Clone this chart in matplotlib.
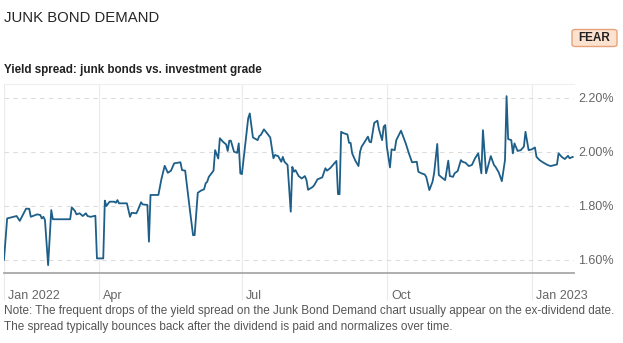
import matplotlib
matplotlib.use("Agg")
import matplotlib.pyplot as plt
from matplotlib.patches import FancyBboxPatch
from matplotlib.transforms import ScaledTranslation
import pandas as pd

plt.rcParams['font.family'] = ['Liberation Sans', 'DejaVu Sans']

# daily yield spread, junk bonds vs. investment grade (%)
dates = [
    "2022-01-31", "2022-02-02", "2022-02-08", "2022-02-10", "2022-02-14", "2022-02-16",
    "2022-02-17", "2022-02-21", "2022-02-23", "2022-02-24", "2022-02-25", "2022-02-26",
    "2022-02-28", "2022-03-02", "2022-03-03", "2022-03-14", "2022-03-15", "2022-03-17",
    "2022-03-18", "2022-03-20", "2022-03-22", "2022-03-24", "2022-03-25", "2022-03-27",
    "2022-03-30", "2022-03-31", "2022-04-04", "2022-04-05", "2022-04-06", "2022-04-08",
    "2022-04-11", "2022-04-12", "2022-04-13", "2022-04-14", "2022-04-19", "2022-04-21",
    "2022-04-22", "2022-04-25", "2022-04-26", "2022-04-28", "2022-04-29", "2022-05-02",
    "2022-05-03", "2022-05-04", "2022-05-09", "2022-05-11", "2022-05-13", "2022-05-15",
    "2022-05-17", "2022-05-19", "2022-05-23", "2022-05-24", "2022-05-26", "2022-05-29",
    "2022-05-31", "2022-06-01", "2022-06-03", "2022-06-05", "2022-06-07", "2022-06-08",
    "2022-06-09", "2022-06-10", "2022-06-13", "2022-06-14", "2022-06-16", "2022-06-17",
    "2022-06-19", "2022-06-21", "2022-06-22", "2022-06-23", "2022-06-24", "2022-06-26",
    "2022-06-28", "2022-06-29", "2022-06-30", "2022-07-01", "2022-07-05", "2022-07-06",
    "2022-07-08", "2022-07-11", "2022-07-12", "2022-07-13", "2022-07-15", "2022-07-19",
    "2022-07-21", "2022-07-22", "2022-07-24", "2022-07-26", "2022-07-27", "2022-07-28",
    "2022-07-30", "2022-08-01", "2022-08-02", "2022-08-03", "2022-08-04", "2022-08-06",
    "2022-08-08", "2022-08-10", "2022-08-11", "2022-08-12", "2022-08-15", "2022-08-16",
    "2022-08-18", "2022-08-21", "2022-08-23", "2022-08-24", "2022-08-26", "2022-08-30",
    "2022-08-31", "2022-09-01", "2022-09-02", "2022-09-03", "2022-09-06", "2022-09-07",
    "2022-09-08", "2022-09-09", "2022-09-11", "2022-09-13", "2022-09-14", "2022-09-15",
    "2022-09-17", "2022-09-19", "2022-09-20", "2022-09-21", "2022-09-23", "2022-09-25",
    "2022-09-26", "2022-09-28", "2022-09-29", "2022-09-30", "2022-10-01", "2022-10-03",
    "2022-10-04", "2022-10-06", "2022-10-07", "2022-10-10", "2022-10-12", "2022-10-13",
    "2022-10-15", "2022-10-17", "2022-10-20", "2022-10-21", "2022-10-23", "2022-10-25",
    "2022-10-26", "2022-10-28", "2022-10-30", "2022-10-31", "2022-11-02", "2022-11-03",
    "2022-11-05", "2022-11-07", "2022-11-09", "2022-11-10", "2022-11-12", "2022-11-13",
    "2022-11-15", "2022-11-17", "2022-11-18", "2022-11-20", "2022-11-22", "2022-11-24",
    "2022-11-26", "2022-11-28", "2022-11-30", "2022-12-01", "2022-12-03", "2022-12-06",
    "2022-12-08", "2022-12-09", "2022-12-11", "2022-12-13", "2022-12-15", "2022-12-16",
    "2022-12-17", "2022-12-19", "2022-12-20", "2022-12-21", "2022-12-23", "2022-12-25",
    "2022-12-27", "2022-12-28", "2022-12-30", "2023-01-01", "2023-01-03", "2023-01-04",
    "2023-01-06", "2023-01-08", "2023-01-11", "2023-01-13", "2023-01-17", "2023-01-18",
    "2023-01-20", "2023-01-22", "2023-01-24", "2023-01-25", "2023-01-27",
]
spread = [
    1.600, 1.753, 1.762, 1.744, 1.789, 1.789,
    1.759, 1.768, 1.766, 1.753, 1.759, 1.747,
    1.580, 1.784, 1.750, 1.750, 1.794, 1.781,
    1.768, 1.772, 1.762, 1.772, 1.762, 1.759,
    1.763, 1.605, 1.605, 1.819, 1.799, 1.815,
    1.815, 1.811, 1.821, 1.809, 1.809, 1.759,
    1.774, 1.772, 1.784, 1.813, 1.805, 1.803,
    1.667, 1.840, 1.840, 1.901, 1.948, 1.922,
    1.930, 1.957, 1.961, 1.932, 1.930, 1.784,
    1.691, 1.691, 1.848, 1.856, 1.861, 1.883,
    1.889, 1.907, 1.930, 2.006, 1.975, 2.050,
    2.037, 2.027, 2.003, 2.041, 2.041, 2.000,
    1.996, 2.031, 1.920, 1.917, 2.124, 2.142,
    2.053, 2.043, 2.058, 2.062, 2.083, 2.053,
    1.976, 1.988, 1.984, 1.963, 1.981, 1.963,
    1.951, 1.778, 1.944, 1.926, 1.932, 1.910,
    1.901, 1.910, 1.895, 1.859, 1.870, 1.877,
    1.898, 1.905, 1.939, 1.930, 1.939, 1.966,
    1.843, 1.843, 2.074, 2.070, 2.064, 2.033,
    2.033, 1.994, 1.967, 1.947, 2.000, 2.019,
    2.037, 2.056, 2.037, 2.035, 2.107, 2.115,
    2.083, 2.043, 2.093, 2.099, 2.019, 1.942,
    2.009, 2.006, 2.043, 2.078, 2.046, 2.031,
    1.994, 1.961, 1.963, 1.926, 1.920, 1.916,
    1.907, 1.858, 1.889, 1.920, 2.029, 1.914,
    1.904, 1.895, 1.967, 1.910, 1.907, 1.920,
    1.929, 1.969, 1.963, 1.959, 1.947, 1.951,
    1.976, 1.994, 1.920, 2.080, 1.920, 1.984,
    1.951, 1.944, 1.924, 1.891, 1.969, 2.206,
    2.047, 2.043, 1.994, 2.031, 2.003, 2.006,
    2.019, 2.074, 2.006, 2.009, 2.016, 1.981,
    1.969, 1.961, 1.951, 1.947, 1.953, 1.994,
    1.981, 1.973, 1.985, 1.976, 1.981,
]

tick_dates = ["2022-01-31", "2022-04-01", "2022-07-01", "2022-10-01", "2023-01-01"]
tick_labels = ["Jan 2022", "Apr", "Jul", "Oct", "Jan 2023"]
y_ticks = [1.6, 1.8, 2.0, 2.2]

x = pd.to_datetime(dates)
W, H = 623, 343

fig = plt.figure(figsize=(W / 100, H / 100), dpi=100)
fig.patch.set_facecolor("white")

# plot box in pixel terms
left, right, top, bottom = 4, 574, 84, 272.7
ax = fig.add_axes([left / W, 1 - bottom / H, (right - left) / W, (bottom - top) / H])

ax.plot(x, spread, color="#1d5f88", lw=1.3, solid_joinstyle="round", zorder=3)

start = pd.Timestamp("2022-01-31")
ax.set_xlim(start, start + pd.Timedelta(days=361.8))
ax.set_ylim(1.552, 2.251)

ax.set_xticks(pd.to_datetime(tick_dates))
ax.set_xticklabels(tick_labels)
ax.set_yticks(y_ticks)
ax.set_yticklabels([f"{v:.2f}%" for v in y_ticks])
ax.yaxis.tick_right()

ax.grid(axis="x", color="#ebebeb", lw=0.8)
ax.grid(axis="y", color="#dcdcdc", lw=0.8, ls=(0, (4, 4)))
ax.set_axisbelow(True)

ax.tick_params(axis="x", length=19.5, width=0.8, color="#ebebeb", pad=-7.2,
               labelsize=9, labelcolor="#666666")
ax.tick_params(axis="y", length=0, pad=3, labelsize=9, labelcolor="#666666")
for lab in ax.get_xticklabels():
    lab.set_horizontalalignment("left")
    lab.set_transform(lab.get_transform() + ScaledTranslation(3 / 72, 0, fig.dpi_scale_trans))

for s in ["left", "right"]:
    ax.spines[s].set_visible(False)
ax.spines["top"].set_color("#eeeeee")
ax.spines["top"].set_linewidth(0.8)
ax.spines["bottom"].set_color("#a8a8a8")
ax.spines["bottom"].set_linewidth(1.3)

# headings
fig.text(4 / W, 1 - 18 / H, "JUNK BOND DEMAND", fontsize=10.7, color="#262626",
         va="center", ha="left")
fig.text(4 / W, 1 - 70 / H, "Yield spread: junk bonds vs. investment grade",
         fontsize=8.4, color="#222222", fontweight="bold", va="center", ha="left")

# sentiment badge
badge = FancyBboxPatch((572 / W, 1 - 46.5 / H), 45 / W, 17 / H,
                       boxstyle="round,pad=0,rounding_size=0.006",
                       transform=fig.transFigure, fc="#fde2cf", ec="#e6a27a", lw=1)
fig.patches.append(badge)
fig.text(594.5 / W, 1 - 38 / H, "FEAR", fontsize=8.5, fontweight="bold",
         color="#222222", ha="center", va="center")

# footnote
fig.text(4 / W, 1 - 311 / H,
         "Note: The frequent drops of the yield spread on the Junk Bond Demand chart usually appear on the ex-dividend date.",
         fontsize=8.45, color="#555555", va="center", ha="left")
fig.text(4 / W, 1 - 327 / H,
         "The spread typically bounces back after the dividend is paid and normalizes over time.",
         fontsize=8.45, color="#555555", va="center", ha="left")

fig.savefig("out.png", dpi=100)
